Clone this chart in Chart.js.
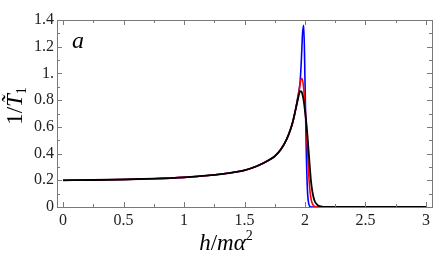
<!DOCTYPE html>
<html>
<head>
<meta charset="utf-8">
<script src="https://cdn.jsdelivr.net/npm/chart.js@4"></script>
<style>
  html, body { margin: 0; padding: 0; background: #fff; }
  #wrap { width: 436px; height: 254px; }
</style>
</head>
<body>
<div id="wrap"><canvas id="relax_graph"></canvas></div>
<script>
// values
const hValues = [0, 0.25, 0.5, 0.75, 1, 1.2, 1.4, 1.5, 1.6, 1.7, 1.75, 1.8, 1.85, 1.88, 1.9, 1.92, 1.94, 1.95, 1.96, 1.97, 1.98, 1.99, 2.0, 2.01, 2.02, 2.03, 2.04, 2.05, 2.06, 2.07, 2.08, 2.1, 2.12, 2.15, 2.2, 2.5, 3];
const rateBlack = [0.2, 0.202, 0.206, 0.212, 0.222, 0.236, 0.258, 0.275, 0.305, 0.35, 0.38, 0.43, 0.51, 0.58, 0.64, 0.72, 0.8, 0.84, 0.868, 0.865, 0.84, 0.79, 0.72, 0.64, 0.54, 0.42, 0.3, 0.19, 0.12, 0.075, 0.045, 0.018, 0.006, 0.001, 0, 0, 0];
const rateRed = [0.2, 0.202, 0.206, 0.212, 0.222, 0.236, 0.258, 0.275, 0.305, 0.35, 0.38, 0.43, 0.51, 0.58, 0.64, 0.72, 0.81, 0.86, 0.92, 0.962, 0.95, 0.88, 0.76, 0.62, 0.44, 0.26, 0.13, 0.06, 0.028, 0.012, 0.004, 0, 0, 0, 0, 0, 0];
const rateBlue = [0.2, 0.202, 0.206, 0.212, 0.222, 0.236, 0.258, 0.275, 0.305, 0.35, 0.38, 0.43, 0.51, 0.58, 0.64, 0.72, 0.82, 0.87, 0.94, 1.1, 1.3, 1.36, 0.95, 0.45, 0.13, 0.03, 0.005, 0, 0, 0, 0, 0, 0, 0, 0, 0, 0];
const xTickValues = [0, 0.5, 1, 1.5, 2, 2.5, 3];
const xTickLabels = ['0', '0.5', '1', '1.5', '2', '2.5', '3'];
const yTickValues = [0, 0.2, 0.4, 0.6, 0.8, 1, 1.2, 1.4];
const yTickLabels = ['0', '0.2', '0.4', '0.6', '0.8', '1.', '1.2', '1.4'];
const xMinorTicks = [0.25, 0.75, 1.25, 1.75, 2.25, 2.75];
const yMinorTicks = [0.1, 0.3, 0.5, 0.7, 0.9, 1.1, 1.3];

function points(ys) {
    return hValues.map((h, i) => ({ x: h, y: ys[i] }));
}

const serif = "'Liberation Serif', 'DejaVu Serif', serif";

// draws text pieces one after another, each with its own style
function drawPieces(ctx, pieces, x, y) {
    let w = 0;
    pieces.forEach(p => { ctx.font = p[1]; w += ctx.measureText(p[0]).width; });
    let cx = x - w / 2;
    ctx.textAlign = 'left';
    pieces.forEach(p => {
        ctx.font = p[1];
        ctx.fillText(p[0], cx, y + (p[2] || 0));
        cx += ctx.measureText(p[0]).width;
    });
}

// frame with inward ticks, panel letter and axis titles
const framePlugin = {
    id: 'frame',
    afterDraw(chart) {
        const ctx = chart.ctx;
        const a = chart.chartArea;
        const xs = chart.scales.x, ys = chart.scales.y;
        ctx.save();
        ctx.strokeStyle = '#7a7a7a';
        ctx.lineWidth = 1;
        ctx.strokeRect(Math.round(a.left) + 0.5, Math.round(a.top) + 0.5,
            Math.round(a.right - a.left), Math.round(a.bottom - a.top));
        ctx.beginPath();
        function xt(v, len) {
            const p = Math.round(xs.getPixelForValue(v)) + 0.5;
            ctx.moveTo(p, a.bottom); ctx.lineTo(p, a.bottom - len);
            ctx.moveTo(p, a.top); ctx.lineTo(p, a.top + len);
        }
        function yt(v, len) {
            const p = Math.round(ys.getPixelForValue(v)) + 0.5;
            ctx.moveTo(a.left, p); ctx.lineTo(a.left + len, p);
            ctx.moveTo(a.right, p); ctx.lineTo(a.right - len, p);
        }
        xTickValues.forEach(v => xt(v, 5));
        xMinorTicks.forEach(v => xt(v, 3));
        yTickValues.forEach(v => yt(v, 5));
        yMinorTicks.forEach(v => yt(v, 3));
        ctx.stroke();

        ctx.fillStyle = '#000';
        ctx.textBaseline = 'alphabetic';
        ctx.font = 'italic 24px ' + serif;
        ctx.textAlign = 'left';
        ctx.fillText('a', 72, 48);

        const it = 'italic 23px ' + serif, up = '23px ' + serif, sm = '14px ' + serif;
        drawPieces(ctx, [['h', it], ['/', up], ['m\u03b1', it], ['2', sm, -10]], 226, 250);

        ctx.translate(22, 106);
        ctx.rotate(-Math.PI / 2);
        drawPieces(ctx, [['1/', up], ['T\u0303', it], ['1', sm, 4]], 0, 0);
        ctx.restore();
    }
};

const ctx = document.getElementById('relax_graph');
const chart = new Chart(ctx, {
    type: 'line',
    data: {
        datasets: [
            {
                label: 'black',
                data: points(rateBlack),
                borderColor: '#000000',
                borderWidth: 1.8,
            },
            {
                label: 'red',
                data: points(rateRed),
                borderColor: '#ff0000',
                borderWidth: 1.6,
            },
            {
                label: 'blue',
                data: points(rateBlue),
                borderColor: '#0000ff',
                borderWidth: 1.6,
            },
        ]
    },
    options: {
        responsive: true,
        maintainAspectRatio: false,
        animation: false,
        elements: {
            point: { radius: 0 },
            line: { cubicInterpolationMode: 'monotone', fill: false }
        },
        layout: {
            padding: { top: 20, right: 4, left: 0, bottom: 0 }
        },
        plugins: {
            legend: { display: false },
            tooltip: { enabled: false }
        },
        scales: {
            x: {
                type: 'linear',
                min: -0.05,
                max: 3.05,
                grid: { display: false, drawTicks: false },
                border: { display: false },
                afterBuildTicks: s => { s.ticks = xTickValues.map(v => ({ value: v })); },
                afterFit: s => { s.height = 47; },
                ticks: {
                    padding: 4,
                    color: '#222',
                    font: { family: serif, size: 16 },
                    maxRotation: 0,
                    autoSkip: false,
                    callback: v => xTickLabels[xTickValues.indexOf(v)]
                }
            },
            y: {
                type: 'linear',
                min: 0,
                max: 1.4,
                grid: { display: false, drawTicks: false },
                border: { display: false },
                afterBuildTicks: s => { s.ticks = yTickValues.map(v => ({ value: v })); },
                afterFit: s => { s.width = 57; },
                ticks: {
                    padding: 3,
                    color: '#222',
                    font: { family: serif, size: 16 },
                    autoSkip: false,
                    callback: v => yTickLabels[yTickValues.indexOf(v)]
                }
            }
        }
    },
    plugins: [framePlugin]
});
</script>
</body>
</html>
